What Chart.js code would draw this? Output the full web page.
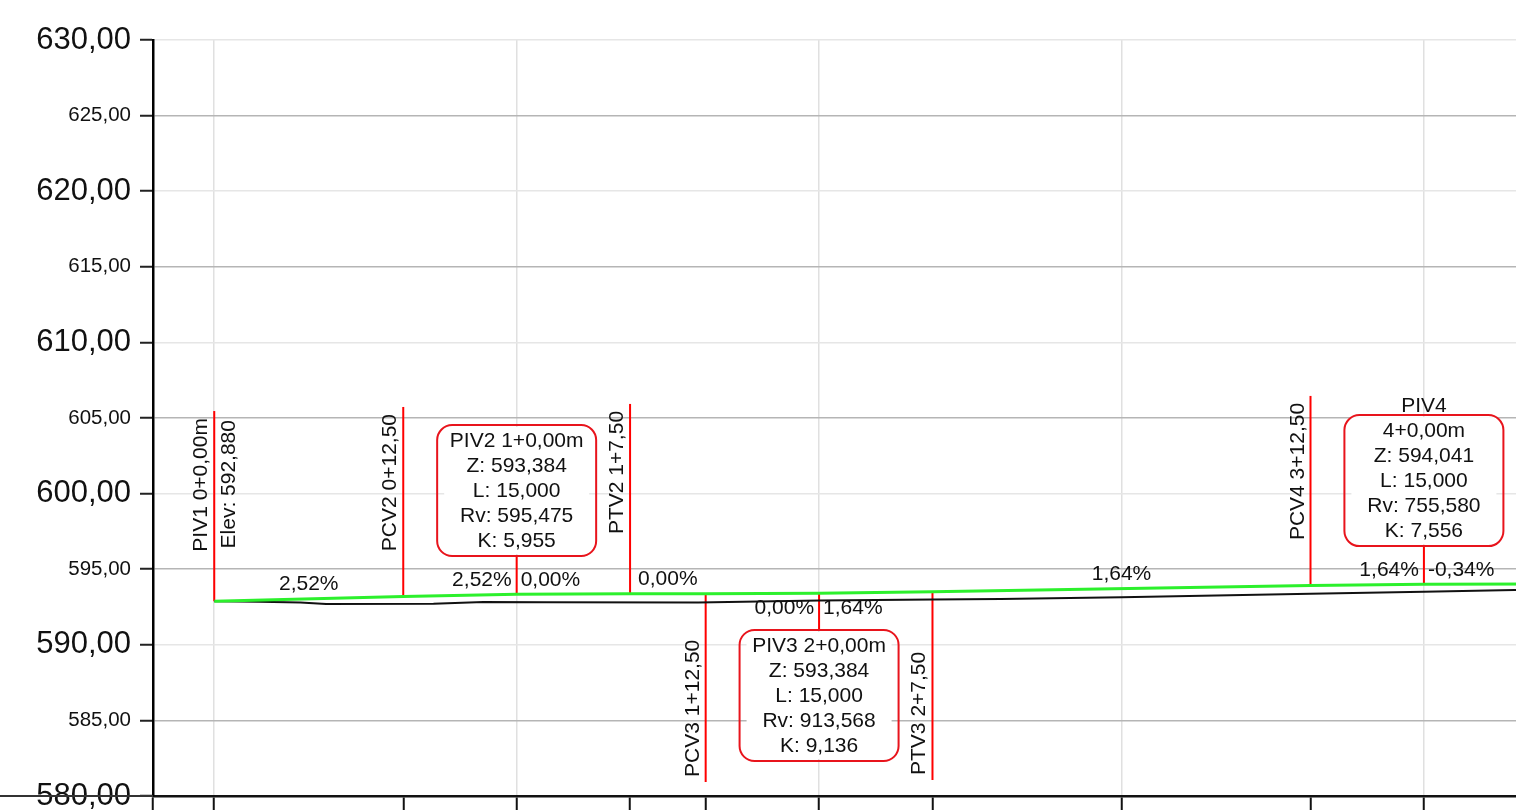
<!DOCTYPE html>
<html>
<head>
<meta charset="utf-8">
<script src="https://cdn.jsdelivr.net/npm/chart.js@4.4.1/dist/chart.umd.min.js"></script>
<style>
  html, body { margin: 0; padding: 0; background: #fff; overflow: hidden; }
  canvas { display: block; }
</style>
</head>
<body>
<canvas id="profile" width="1560" height="810"></canvas>
<script>
// grade line (greide), stations in metres
const gradeStations = [0, 12.5, 20, 27.5, 32.5, 40, 47.5, 72.5, 80, 87.5, 89];
const gradeElevations = [592.880, 593.195, 593.337, 593.384, 593.384, 593.415, 593.507, 593.917, 594.004, 594.016, 594.010];

// terrain
const groundStations = [0, 3, 5.7, 7.4, 14.5, 17.8, 22, 32, 40, 47.5, 52, 60, 72.5, 80, 86, 89];
const groundElevations = [592.88, 592.84, 592.79, 592.70, 592.72, 592.83, 592.82, 592.80, 592.93, 593.00, 593.03, 593.14, 593.38, 593.51, 593.62, 593.66];

// x tick marks
const tickStations = [0, 12.5, 20, 27.5, 32.5, 40, 47.5, 60, 72.5, 80, 87.5];

// single points with rotated labels
const pointStations = [0, 12.5, 27.5, 32.5, 47.5, 72.5, 87.5];
const pointLabels = ['PIV1 0+0,00m', 'PCV2 0+12,50', 'PTV2 1+7,50', 'PCV3 1+12,50', 'PTV3 2+7,50', 'PCV4 3+12,50', 'PTV4 4+7,50'];
const pointBase = [592.880, 593.195, 593.384, 593.384, 593.507, 593.917, 594.016];
const pointEnd = [605.46, 605.73, 605.93, 580.93, 581.06, 606.46, 606.40];
const elevNote = 'Elev: 592,880';

// vertical curve PIVs with boxes
const pivStations = [20, 40, 80];
const pivBase = [593.337, 593.415, 594.004];
const pivBoxEdge = [595.87, 590.98, 596.53];
const pivHeads = [null, null, 'PIV4'];
const pivTitles = ['PIV2 1+0,00m', 'PIV3 2+0,00m', '4+0,00m'];
const pivZ = ['593,384', '593,384', '594,041'];
const pivL = ['15,000', '15,000', '15,000'];
const pivRv = ['595,475', '913,568', '755,580'];
const pivK = ['5,955', '9,136', '7,556'];
const pivGradeIn = ['2,52%', '0,00%', '1,64%'];
const pivGradeOut = ['0,00%', '1,64%', '-0,34%'];

// grade labels on the tangents
const tangentStations = [6.25, 30, 60];
const tangentElevations = [593.038, 593.384, 593.712];
const tangentGrades = ['2,52%', '0,00%', '1,64%'];

const FONT = "'Liberation Sans', Arial, sans-serif";
const RED = '#f00';
const BOX_W = 159, BOX_H = 131;

const toXY = (xs, ys) => xs.map((x, i) => ({x, y: ys[i]}));
const comma = v => Number(v).toFixed(2).replace('.', ',');

const datasets = [
  {data: toXY(gradeStations, gradeElevations), borderColor: '#2cf02c', borderWidth: 3},
  {data: toXY(groundStations, groundElevations), borderColor: '#111', borderWidth: 2}
];
pointStations.forEach((s, i) => datasets.push({
  data: [{x: s, y: pointBase[i]}, {x: s, y: pointEnd[i]}], borderColor: RED, borderWidth: 2
}));
pivStations.forEach((s, i) => datasets.push({
  data: [{x: s, y: pivBase[i]}, {x: s, y: pivBoxEdge[i]}], borderColor: RED, borderWidth: 2
}));

function rotated(ctx, text, bx, ay, up) {
  ctx.save();
  ctx.translate(bx, ay);
  ctx.rotate(-Math.PI / 2);
  ctx.textAlign = up ? 'right' : 'left';
  ctx.textBaseline = 'alphabetic';
  ctx.fillText(text, 0, 0);
  ctx.restore();
}

const annotate = {
  id: 'annotate',
  afterDatasetsDraw(chart) {
    const {ctx, scales: {x, y}} = chart;
    ctx.save();
    ctx.font = '21px ' + FONT;
    ctx.fillStyle = '#111';

    pointStations.forEach((s, i) => {
      const px = x.getPixelForValue(s);
      const up = pointEnd[i] > pointBase[i];
      const py = y.getPixelForValue(pointEnd[i]);
      rotated(ctx, pointLabels[i], px - 7, up ? py + 7 : py - 5, up);
    });
    rotated(ctx, elevNote, x.getPixelForValue(pointStations[0]) + 21, y.getPixelForValue(pointEnd[0]) + 9, true);

    tangentStations.forEach((s, i) => {
      ctx.textAlign = 'center';
      ctx.fillText(tangentGrades[i], x.getPixelForValue(s), y.getPixelForValue(tangentElevations[i]) - 9);
    });

    pivStations.forEach((s, i) => {
      const px = x.getPixelForValue(s);
      const up = pivBoxEdge[i] > pivBase[i];
      const edge = y.getPixelForValue(pivBoxEdge[i]);
      const top = up ? edge - BOX_H : edge;
      const left = px - BOX_W / 2;
      ctx.fillStyle = '#fff';
      ctx.fillRect(left + 7, top + 2, BOX_W - 14, BOX_H - 4);
      ctx.strokeStyle = '#e8141c';
      ctx.lineWidth = 2;
      ctx.beginPath();
      ctx.roundRect(left, top, BOX_W, BOX_H, 15);
      ctx.stroke();
      ctx.fillStyle = '#111';
      ctx.textAlign = 'center';
      const lines = [pivTitles[i], 'Z: ' + pivZ[i], 'L: ' + pivL[i], 'Rv: ' + pivRv[i], 'K: ' + pivK[i]];
      lines.forEach((t, k) => ctx.fillText(t, px, top + 22 + 25 * k));
      if (pivHeads[i]) ctx.fillText(pivHeads[i], px, top - 3);
      const gy = y.getPixelForValue(pivBase[i]) + (up ? -8 : 21);
      ctx.textAlign = 'right';
      ctx.fillText(pivGradeIn[i], px - 5, gy);
      ctx.textAlign = 'left';
      ctx.fillText(pivGradeOut[i], px + 4, gy);
    });
    ctx.restore();
  },
  afterDraw(chart) {
    // base line runs through the lowest label
    const {ctx, chartArea, scales: {y}} = chart;
    const py = y.getPixelForValue(y.min);
    ctx.save();
    ctx.strokeStyle = '#333';
    ctx.lineWidth = 2;
    ctx.beginPath();
    ctx.moveTo(0, py);
    ctx.lineTo(chartArea.left, py);
    ctx.stroke();
    ctx.restore();
  }
};

new Chart(document.getElementById('profile'), {
  type: 'line',
  data: {datasets},
  options: {
    responsive: false,
    animation: false,
    events: [],
    layout: {padding: {top: 40, left: 0, right: 0, bottom: 0}},
    elements: {point: {radius: 0}, line: {tension: 0, fill: false}},
    plugins: {legend: {display: false}, tooltip: {enabled: false}},
    scales: {
      x: {
        type: 'linear', min: -4.05, max: 89,
        afterBuildTicks: s => { s.ticks = [s.min].concat(tickStations).map(value => ({value})); },
        afterFit: s => { s.height = 14; s.paddingLeft = 0; s.paddingRight = 0; },
        border: {color: '#111', width: 2.5},
        grid: {
          color: c => (c.tick && c.tick.value % 20 === 0) ? '#e0e0e0' : 'rgba(0,0,0,0)',
          lineWidth: 1.5, tickColor: '#111', tickWidth: 2, tickLength: 14
        },
        ticks: {display: false}
      },
      y: {
        min: 580, max: 630,
        afterFit: s => { s.width = 153; s.paddingTop = 0; s.paddingBottom = 0; },
        border: {color: '#000', width: 2.5},
        grid: {
          color: c => (c.tick && c.tick.value % 10 === 0) ? '#e6e6e6' : '#b5b5b5',
          lineWidth: 1.5, tickColor: '#222', tickWidth: 2, tickLength: 13
        },
        ticks: {
          stepSize: 5, padding: 9, color: '#111',
          font: c => ({family: FONT, size: (c.tick && c.tick.value % 10 === 0) ? 31 : 20.5}),
          callback: v => comma(v)
        }
      }
    }
  },
  plugins: [annotate]
});
</script>
</body>
</html>
